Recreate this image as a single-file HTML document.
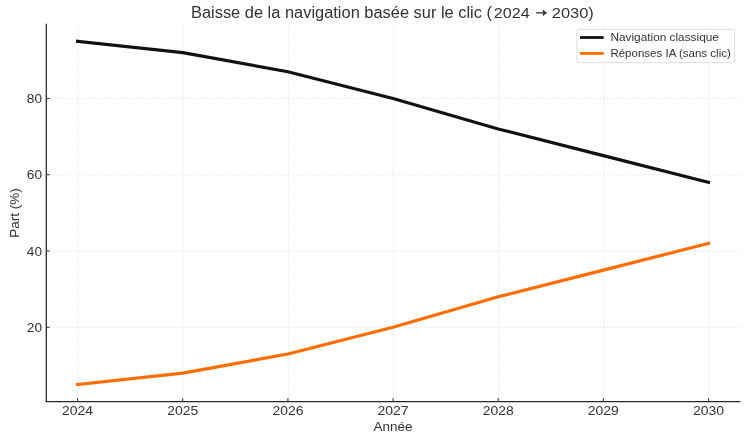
<!DOCTYPE html>
<html><head><meta charset="utf-8"><style>
html,body{margin:0;padding:0;background:#fff;width:748px;height:437px;overflow:hidden}
svg{display:block;will-change:transform}
text{font-family:"Liberation Sans", sans-serif;fill:#333}
</style></head><body>
<svg width="748" height="437" viewBox="0 0 748 437">
<rect width="748" height="437" fill="#fff"/>
<g stroke="#e8e8e8" stroke-width="0.8" stroke-dasharray="2.2 1.0"><line x1="78.00" y1="401.60" x2="78.00" y2="23.80"/><line x1="183.15" y1="401.60" x2="183.15" y2="23.80"/><line x1="288.30" y1="401.60" x2="288.30" y2="23.80"/><line x1="393.45" y1="401.60" x2="393.45" y2="23.80"/><line x1="498.60" y1="401.60" x2="498.60" y2="23.80"/><line x1="603.75" y1="401.60" x2="603.75" y2="23.80"/><line x1="708.90" y1="401.60" x2="708.90" y2="23.80"/><line x1="46.30" y1="327.30" x2="740.40" y2="327.30"/><line x1="46.30" y1="251.02" x2="740.40" y2="251.02"/><line x1="46.30" y1="174.74" x2="740.40" y2="174.74"/><line x1="46.30" y1="98.46" x2="740.40" y2="98.46"/></g>
<polyline points="77.60,41.25 182.75,52.69 287.90,71.76 393.05,98.46 498.20,128.97 603.35,155.67 708.50,182.37" fill="none" stroke="#111" stroke-width="3.2" stroke-linecap="square" stroke-linejoin="round"/>
<polyline points="77.60,384.51 182.75,373.07 287.90,354.00 393.05,327.30 498.20,296.79 603.35,270.09 708.50,243.39" fill="none" stroke="#ff6c00" stroke-width="3.2" stroke-linecap="square" stroke-linejoin="round"/>
<g stroke="#2a2a2a" stroke-width="1.3"><line x1="46.3" y1="23.8" x2="46.3" y2="402.20000000000005"/><line x1="46.0" y1="401.6" x2="740.4" y2="401.6"/></g>
<g stroke="#333" stroke-width="1"><line x1="77.60" y1="401.60" x2="77.60" y2="398.10"/><line x1="182.75" y1="401.60" x2="182.75" y2="398.10"/><line x1="287.90" y1="401.60" x2="287.90" y2="398.10"/><line x1="393.05" y1="401.60" x2="393.05" y2="398.10"/><line x1="498.20" y1="401.60" x2="498.20" y2="398.10"/><line x1="603.35" y1="401.60" x2="603.35" y2="398.10"/><line x1="708.50" y1="401.60" x2="708.50" y2="398.10"/><line x1="46.30" y1="327.30" x2="49.80" y2="327.30"/><line x1="46.30" y1="251.02" x2="49.80" y2="251.02"/><line x1="46.30" y1="174.74" x2="49.80" y2="174.74"/><line x1="46.30" y1="98.46" x2="49.80" y2="98.46"/></g>
<text x="77.60" y="415" font-size="12.6" text-anchor="middle" textLength="31" lengthAdjust="spacingAndGlyphs">2024</text><text x="182.75" y="415" font-size="12.6" text-anchor="middle" textLength="31" lengthAdjust="spacingAndGlyphs">2025</text><text x="287.90" y="415" font-size="12.6" text-anchor="middle" textLength="31" lengthAdjust="spacingAndGlyphs">2026</text><text x="393.05" y="415" font-size="12.6" text-anchor="middle" textLength="31" lengthAdjust="spacingAndGlyphs">2027</text><text x="498.20" y="415" font-size="12.6" text-anchor="middle" textLength="31" lengthAdjust="spacingAndGlyphs">2028</text><text x="603.35" y="415" font-size="12.6" text-anchor="middle" textLength="31" lengthAdjust="spacingAndGlyphs">2029</text><text x="708.50" y="415" font-size="12.6" text-anchor="middle" textLength="31" lengthAdjust="spacingAndGlyphs">2030</text>
<text x="42.0" y="331.80" font-size="12.6" text-anchor="end" textLength="15.2" lengthAdjust="spacingAndGlyphs">20</text><text x="42.0" y="255.52" font-size="12.6" text-anchor="end" textLength="15.2" lengthAdjust="spacingAndGlyphs">40</text><text x="42.0" y="179.24" font-size="12.6" text-anchor="end" textLength="15.2" lengthAdjust="spacingAndGlyphs">60</text><text x="42.0" y="102.96" font-size="12.6" text-anchor="end" textLength="15.2" lengthAdjust="spacingAndGlyphs">80</text>
<text x="393" y="431" font-size="12.6" text-anchor="middle" textLength="38.95" lengthAdjust="spacingAndGlyphs">Ann&#233;e</text>
<text transform="translate(19.3,213) rotate(-90)" font-size="12.6" text-anchor="middle" textLength="49.6" lengthAdjust="spacingAndGlyphs">Part (%)</text>
<text x="191.0" y="17.85" font-size="15.6" textLength="301.0" lengthAdjust="spacingAndGlyphs">Baisse de la navigation bas&#233;e sur le clic (</text>
<text x="493.8" y="17.75" font-size="15.0" textLength="36.0" lengthAdjust="spacingAndGlyphs">2024</text>
<path d="M536.1,12.86 H544.6" stroke="#333" stroke-width="1.3" fill="none"/><path d="M543.3,10.5 Q544.6,12.2 546.2,12.86 Q544.6,13.5 543.3,15.2 L543.9,12.86 Z" fill="#333" stroke="#333" stroke-width="1.2" stroke-linejoin="round"/>
<text x="551.8" y="17.75" font-size="15.0" textLength="42.0" lengthAdjust="spacingAndGlyphs">2030)</text>
<rect x="576.9" y="29.4" width="157.8" height="33.3" rx="2" fill="#fff" fill-opacity="0.8" stroke="#d4d4d4" stroke-width="0.8"/>
<line x1="580" y1="37.5" x2="603.7" y2="37.5" stroke="#111" stroke-width="2.8"/><line x1="580" y1="53.4" x2="603.7" y2="53.4" stroke="#ff6c00" stroke-width="2.8"/>
<text x="610.4" y="41.1" font-size="10.9" textLength="108.5" lengthAdjust="spacingAndGlyphs">Navigation classique</text><text x="610.4" y="56.8" font-size="10.9" textLength="120.4" lengthAdjust="spacingAndGlyphs">R&#233;ponses IA (sans clic)</text>
</svg></body></html>
